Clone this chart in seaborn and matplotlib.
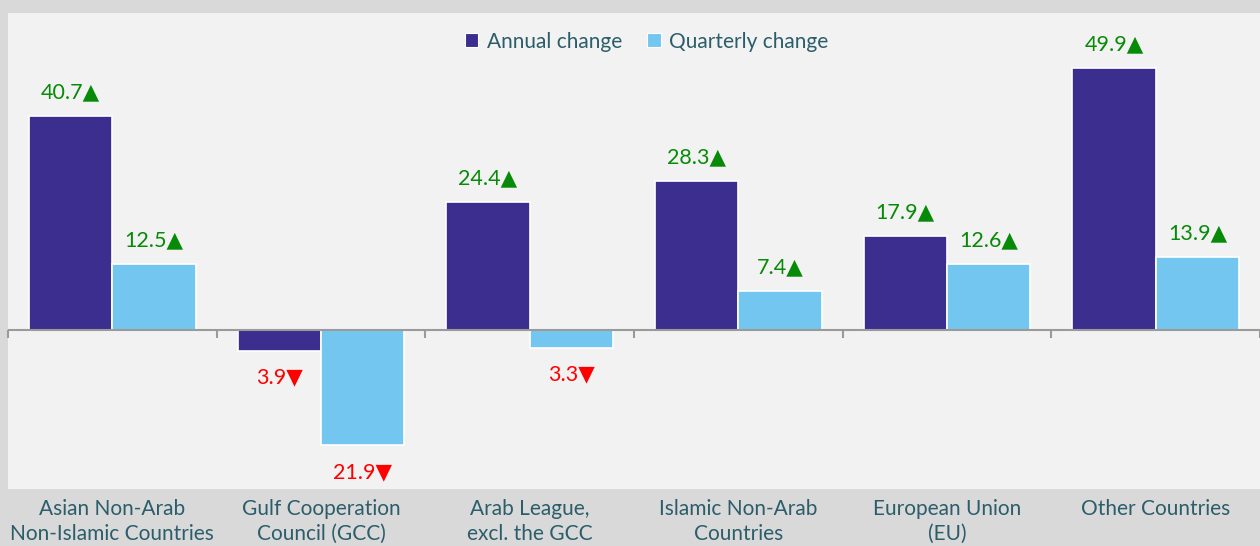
import pandas as pd
import numpy as np
import matplotlib
matplotlib.use('Agg')
import matplotlib.pyplot as plt
import seaborn as sns
from matplotlib.patches import Patch

# Data
categories = [
    'Asian Non-Arab\nNon-Islamic Countries',
    'Gulf Cooperation\nCouncil (GCC)',
    'Arab League,\nexcl. the GCC',
    'Islamic Non-Arab\nCountries',
    'European Union\n(EU)',
    'Other Countries',
]
annual_change = [40.7, -3.9, 24.4, 28.3, 17.9, 49.9]
quarterly_change = [12.5, -21.9, -3.3, 7.4, 12.6, 13.9]
series_names = ['Annual change', 'Quarterly change']

colors = ['#3b2e8e', '#73c6ef']
text_col = '#2b5d6b'
up_col = '#078a07'
down_col = '#ff0000'

df = pd.DataFrame({
    'Category': categories * 2,
    'Series': [series_names[0]] * len(categories) + [series_names[1]] * len(categories),
    'Value': annual_change + quarterly_change,
})

sns.set_theme(style='white')
plt.rcParams['font.family'] = ['Lato', 'DejaVu Sans']

fig = plt.figure(figsize=(12.6, 5.46), dpi=100)
fig.patch.set_facecolor('#d9d9d9')
ax = fig.add_axes([8 / 1260, 1 - 489 / 546, 1 - 8 / 1260, (489 - 13) / 546])
ax.set_facecolor('#f2f2f2')

sns.barplot(data=df, x='Category', y='Value', hue='Series', palette=colors,
            saturation=1, width=0.8, edgecolor='white', linewidth=1.2,
            ax=ax, legend=False)

ax.set_xlim(-0.5, len(categories) - 0.5)
ax.set_ylim(-30.2, 60.3)

for sp in ax.spines.values():
    sp.set_visible(False)

# zero line with small ticks at the group boundaries
ax.axhline(0, color='#9a9a9a', lw=1.5, zorder=3)
bounds = np.arange(len(categories) + 1) - 0.5
ax.vlines(bounds, -1.4, 0, color='#9a9a9a', lw=1.5, zorder=3, clip_on=False)

# value labels
for cont in ax.containers:
    for bar in cont:
        v = bar.get_height()
        xc = bar.get_x() + bar.get_width() / 2
        if v >= 0:
            ax.text(xc, v + 2.6, f'{abs(v):.1f}\u25B2',
                    ha='center', va='bottom', color=up_col, fontsize=15.5)
        else:
            ax.text(xc, v - 3.2, f'{abs(v):.1f}\u25BC',
                    ha='center', va='top', color=down_col, fontsize=15.5)

ax.set_yticks([])
ax.set_xlabel('')
ax.set_ylabel('')
ax.tick_params(axis='x', length=0, pad=7, labelsize=15, labelcolor=text_col)
for lbl in ax.get_xticklabels():
    lbl.set_linespacing(1.3)

handles = [Patch(facecolor=c, edgecolor='white', lw=0.8) for c in colors]
ax.legend(handles, series_names, loc='center', bbox_to_anchor=(0.51, 0.94), ncol=2,
          frameon=False, handlelength=0.65, handleheight=0.65, handletextpad=0.4,
          columnspacing=1.2, fontsize=15, labelcolor=text_col)

fig.savefig('out.png', dpi=100, facecolor=fig.get_facecolor())
